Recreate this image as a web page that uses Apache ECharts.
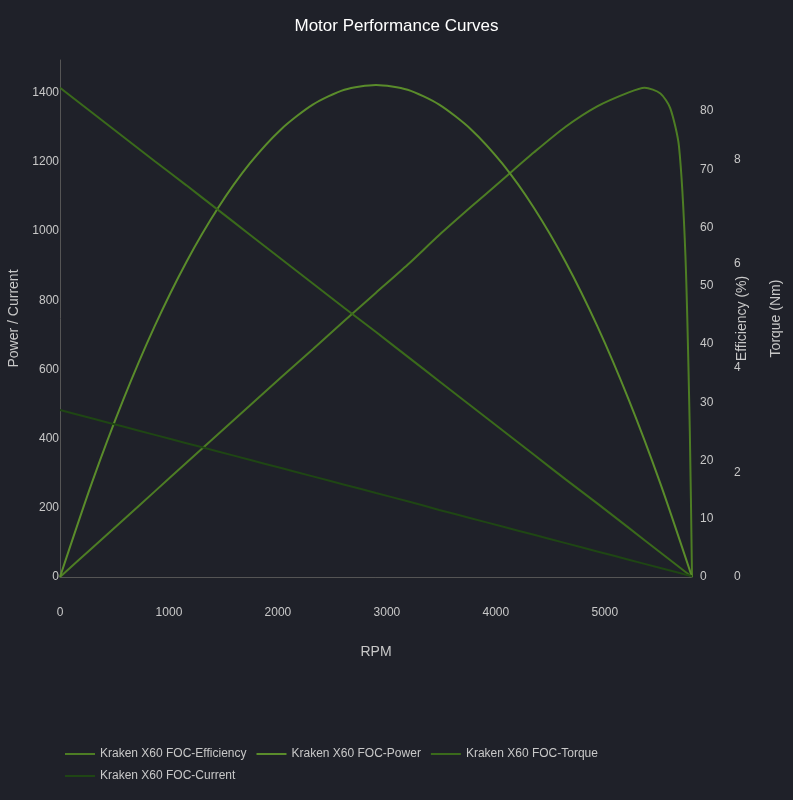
<!DOCTYPE html>
<html>
<head>
<meta charset="utf-8">
<script src="https://cdn.jsdelivr.net/npm/echarts@6/dist/echarts.min.js"></script>
<style>
  html, body { margin: 0; padding: 0; background: #1f2129; }
  #chart { width: 793px; height: 800px; }
</style>
</head>
<body>
<div id="chart"></div>
<script>
// RPM samples shared by power, torque and current
const rpm = [0, 290, 580, 870, 1160, 1450, 1740, 2030, 2320, 2610, 2900, 3190, 3480, 3770, 4060, 4350, 4640, 4930, 5220, 5510, 5800];
const power = [0, 270, 512, 726, 911, 1067, 1195, 1295, 1366, 1409, 1423, 1409, 1366, 1295, 1195, 1067, 911, 726, 512, 270, 0];
const torque = [9.37, 8.90, 8.43, 7.96, 7.50, 7.03, 6.56, 6.09, 5.62, 5.15, 4.69, 4.22, 3.75, 3.28, 2.81, 2.34, 1.87, 1.41, 0.94, 0.47, 0];
const current = [483, 459, 435, 411, 387, 363, 339, 315, 291, 267, 243, 219, 194, 170, 146, 122, 98, 74, 50, 26, 2];
// efficiency has its own samples (denser near free speed)
const effRpm = [0, 290, 580, 870, 1160, 1450, 1740, 2030, 2320, 2610, 2900, 3190, 3480, 3770, 4060, 4350, 4640, 4930, 5220, 5365, 5510, 5600, 5680, 5740, 5780, 5800];
const efficiency = [0, 4.9, 9.8, 14.7, 19.6, 24.5, 29.4, 34.3, 39.1, 44.0, 48.8, 53.6, 58.7, 63.5, 68.2, 72.9, 77.3, 80.8, 83.2, 84.0, 83.0, 80.5, 74, 55, 25, 0];

const pairs = (xs, ys) => xs.map((x, i) => [x, ys[i]]);

const textColor = '#c8c8c8';
const plain = (v) => String(v);
const chart = echarts.init(document.getElementById('chart'));

const line = (name, yAxisIndex, data, color) => ({
    name: name,
    type: 'line',
    yAxisIndex: yAxisIndex,
    data: data,
    smooth: 0.25,
    showSymbol: false,
    lineStyle: { width: 2, color: color },
    itemStyle: { color: color }
});

chart.setOption({
    backgroundColor: '#1f2129',
    animation: false,
    title: {
        text: 'Motor Performance Curves',
        left: 'center',
        top: 13,
        textStyle: { color: '#ffffff', fontSize: 17, fontWeight: 'normal', fontFamily: 'Liberation Sans' }
    },
    grid: { left: 60, right: 101, top: 60, bottom: 223, outerBoundsMode: 'none', containLabel: false },
    legend: {
        left: 60,
        top: 743,
        width: 580,
        itemWidth: 30,
        itemHeight: 2,
        itemGap: 10,
        icon: 'rect',
        textStyle: { color: textColor, fontSize: 12, width: 145 },
        data: ['Kraken X60 FOC-Efficiency', 'Kraken X60 FOC-Power', 'Kraken X60 FOC-Torque', 'Kraken X60 FOC-Current']
    },
    xAxis: {
        type: 'value',
        min: 0,
        max: 5800,
        interval: 1000,
        name: 'RPM',
        nameLocation: 'middle',
        nameGap: 68,
        nameTextStyle: { color: textColor, fontSize: 14 },
        axisLine: { lineStyle: { color: '#555' } },
        axisTick: { show: false },
        splitLine: { show: false },
        axisLabel: { color: textColor, margin: 30, showMaxLabel: false, formatter: plain }
    },
    yAxis: [
        {
            type: 'value',
            min: 0,
            max: 1495,
            interval: 200,
            name: 'Power / Current',
            nameLocation: 'middle',
            nameGap: 38,
            nameTextStyle: { color: textColor, fontSize: 14 },
            axisLine: { show: true, lineStyle: { color: '#555' } },
            axisTick: { show: false },
            splitLine: { show: false },
            axisLabel: { color: textColor, margin: 1, showMaxLabel: false, formatter: plain }
        },
        {
            type: 'value',
            position: 'right',
            min: 0,
            max: 88.75,
            interval: 10,
            name: 'Efficiency (%)',
            nameLocation: 'middle',
            nameGap: 43,
            nameTextStyle: { color: textColor, fontSize: 14 },
            axisLine: { show: false },
            axisTick: { show: false },
            splitLine: { show: false },
            axisLabel: { color: textColor, margin: 8, showMaxLabel: false }
        },
        {
            type: 'value',
            position: 'right',
            offset: 34,
            min: 0,
            max: 9.9,
            interval: 2,
            name: 'Torque (Nm)',
            nameLocation: 'middle',
            nameGap: 43,
            nameTextStyle: { color: textColor, fontSize: 14 },
            axisLine: { show: false },
            axisTick: { show: false },
            splitLine: { show: false },
            axisLabel: { color: textColor, margin: 8, showMaxLabel: false }
        }
    ],
    series: [
        line('Kraken X60 FOC-Efficiency', 1, pairs(effRpm, efficiency), '#4d7d24'),
        line('Kraken X60 FOC-Power', 0, pairs(rpm, power), '#5a8c2b'),
        line('Kraken X60 FOC-Torque', 2, pairs(rpm, torque), '#3a6a1b'),
        line('Kraken X60 FOC-Current', 0, pairs(rpm, current), '#1f4614')
    ]
});
</script>
</body>
</html>
